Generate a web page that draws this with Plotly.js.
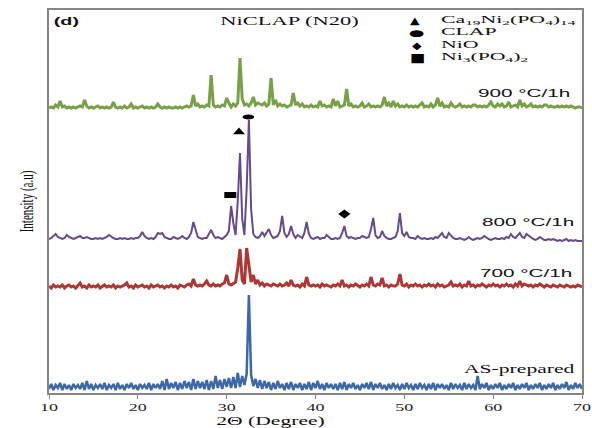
<!DOCTYPE html>
<html><head><meta charset="utf-8">
<script src="https://cdn.plot.ly/plotly-3.0.1.min.js"></script>
<style>html,body{margin:0;padding:0;background:#fff}#chart{width:592px;height:428px}</style>
</head><body><div id="chart"></div>
<script>
// 2-theta scan positions (degrees)
const twoTheta = [10,10.25,10.5,10.75,11,11.25,11.5,11.75,12,12.25,12.5,12.75,13,13.25,13.5,13.75,14,14.25,14.5,14.75,15,15.25,15.5,15.75,16,16.25,16.5,16.75,17,17.25,17.5,17.75,18,18.25,18.5,18.75,19,19.25,19.5,19.75,20,20.25,20.5,20.75,21,21.25,21.5,21.75,22,22.25,22.5,22.75,23,23.25,23.5,23.75,24,24.25,24.5,24.75,25,25.25,25.5,25.75,26,26.25,26.5,26.75,27,27.25,27.5,27.75,28,28.25,28.5,28.75,29,29.25,29.5,29.75,30,30.25,30.5,30.75,31,31.25,31.5,31.75,32,32.25,32.5,32.75,33,33.25,33.5,33.75,34,34.25,34.5,34.75,35,35.25,35.5,35.75,36,36.25,36.5,36.75,37,37.25,37.5,37.75,38,38.25,38.5,38.75,39,39.25,39.5,39.75,40,40.25,40.5,40.75,41,41.25,41.5,41.75,42,42.25,42.5,42.75,43,43.25,43.5,43.75,44,44.25,44.5,44.75,45,45.25,45.5,45.75,46,46.25,46.5,46.75,47,47.25,47.5,47.75,48,48.25,48.5,48.75,49,49.25,49.5,49.75,50,50.25,50.5,50.75,51,51.25,51.5,51.75,52,52.25,52.5,52.75,53,53.25,53.5,53.75,54,54.25,54.5,54.75,55,55.25,55.5,55.75,56,56.25,56.5,56.75,57,57.25,57.5,57.75,58,58.25,58.5,58.75,59,59.25,59.5,59.75,60,60.25,60.5,60.75,61,61.25,61.5,61.75,62,62.25,62.5,62.75,63,63.25,63.5,63.75,64,64.25,64.5,64.75,65,65.25,65.5,65.75,66,66.25,66.5,66.75,67,67.25,67.5,67.75,68,68.25,68.5,68.75,69,69.25,69.5,69.75,70];

// Intensities (a.u.)
const intAS = [
4,9,3,8, 5,10,3,9, 4,8,3,9, 5,8,4,10, 3,12,4,9, 3,8,5,9, 4,10,3,8, 5,9,3,10, 4,8,3,9, 5,10,4,8,
3,9,5,8, 4,10,3,9, 5,9,4,12, 3,14,4,10, 5,11,3,10, 4,12,5,11, 3,14,4,12, 5,11,4,13, 3,12,4,17, 5,13,4,14,
6,15,5,16, 5,20,6,17, 8,19,98,18, 7,14,5,13, 4,12,5,11, 3,10,4,12, 5,9,3,10, 4,11,3,9, 5,10,3,9, 4,11,3,10,
5,12,4,9, 3,10,5,9, 4,9,3,10, 4,11,3,9, 5,10,4,8, 3,9,5,10, 4,11,3,9, 5,10,4,8, 3,9,4,10, 5,8,3,9,
4,10,5,8, 3,9,4,10, 5,8,3,9, 4,10,3,9, 5,9,4,8, 3,10,4,9, 5,8,3,10, 4,9,5,8, 3,17,4,9, 5,10,3,8,
4,9,5,10, 3,8,4,9, 5,10,3,8, 4,9,5,10, 3,8,4,9, 5,10,3,8, 4,9,5,10, 3,8,4,9, 5,11,3,8, 4,10,5,9,
4];
const int700 = [
2,0,3,1, 2,1,3,0, 2,3,1,2, 0,2,5,1, 2,0,3,1, 2,1,3,0, 2,3,1,2, 1,3,0,2, 1,2,3,5, 1,2,0,3,
1,2,3,1, 2,0,3,1, 2,3,1,2, 0,2,1,3, 1,2,0,3, 2,1,3,4, 2,9,3,2, 3,2,4,7, 3,2,4,2, 3,2,4,5,
13,4,3,5, 6,20,39,8, 4,40,22,6, 13,4,8,3, 5,2,4,3, 2,4,3,2, 4,2,3,5, 2,8,3,2, 3,1,4,2, 11,3,2,3,
2,3,1,4, 2,3,2,1, 3,2,4,2, 8,2,3,1, 3,2,4,2, 1,3,2,4, 2,11,3,2, 4,3,10,2, 3,1,3,2, 2,4,14,3,
2,4,1,3, 2,4,2,3, 1,3,2,4, 2,3,1,4, 2,3,1,2, 3,6,2,3, 2,4,1,3, 2,7,2,3, 1,3,2,4, 2,1,3,2,
4,2,3,1, 3,2,4,2, 3,1,4,2, 7,2,4,3, 2,3,1,3, 2,4,2,1, 3,2,1,3, 2,1,3,2, 1,3,2,1, 2,1,3,2,
1];
const int800 = [
0,1,3,5, 2,1,0,1, 4,2,1,0, 1,2,3,1, 1,2,1,0, 0,1,0,1, 0,1,2,4, 2,1,0,0, 1,0,1,0, 0,1,0,1,
1,3,7,3, 1,0,1,0, 2,6,5,6, 2,1,0,0, 2,1,0,1, 3,1,0,2, 6,17,8,2, 1,0,1,1, 5,9,4,1, 2,1,0,2,
4,8,33,16, 4,38,86,20, 4,50,119,30, 5,2,1,3, 7,3,6,10, 4,1,2,3, 8,23,6,2, 5,13,5,1, 4,2,1,6, 17,5,1,0,
1,2,0,1, 1,4,2,0, 0,1,0,1, 6,13,3,1, 2,1,0,1, 1,3,2,1, 2,10,21,4, 1,2,8,3, 1,0,0,1, 2,8,26,6,
3,7,2,1, 1,0,3,1, 0,1,0,0, 1,0,2,1, 3,6,2,1, 6,3,1,0, 0,1,0,-1, 0,2,0,-1, 0,1,0,1, 3,1,0,-1,
0,1,0,0, 1,0,2,1, 5,2,1,4, 6,2,1,5, 3,1,0,-1, 0,2,0,-1, -1,0,-1,0, -1,-2,-1,-2, -1,0,-2,-1, -2,-1,-2,-2,
-2];
const int900 = [
1,2,1,4, 2,8,2,3, 1,2,1,2, 1,2,3,2, 9,3,1,2, 1,2,3,1, 2,1,2,1, 2,7,2,1, 2,1,3,1, 2,5,1,2,
1,2,3,1, 2,1,2,1, 2,5,2,1, 2,1,2,1, 1,2,1,2, 1,2,3,2, 3,14,3,5, 2,3,2,4, 3,34,4,2, 3,2,4,3,
11,6,2,5, 3,6,51,10, 4,5,3,6, 12,4,6,5, 4,6,3,5, 31,4,9,3, 5,3,4,2, 3,4,16,4, 6,3,5,2, 3,2,4,2,
3,2,8,3, 4,2,3,2, 10,3,8,2, 3,4,20,3, 5,2,3,2, 3,6,2,3, 5,2,3,2, 3,2,4,12, 3,6,2,8, 3,5,2,3,
2,4,2,3, 2,3,2,4, 6,2,3,2, 5,2,4,11, 3,6,2,3, 2,6,3,2, 3,5,2,3, 2,3,2,4, 4,2,3,2, 3,2,4,7,
3,2,5,3, 5,2,3,7, 2,3,4,2, 9,3,5,2, 3,5,2,3, 2,3,2,4, 4,2,3,2, 2,3,2,3, 2,3,2,3, 2,1,2,2,
1];

const seriesNames = ['AS-prepared', '700 °C/1h', '800 °C/1h', '900 °C/1h'];

// Phase markers on the 800 °C pattern
const phaseNames = ['Ca<sub>19</sub>Ni<sub>2</sub>(PO<sub>4</sub>)<sub>14</sub>', 'CLAP', 'NiO', 'Ni<sub>3</sub>(PO<sub>4</sub>)<sub>2</sub>'];
const phaseAngle = [31.39, 32.44, 43.25, 30.41];
const phaseHeight = [107, 122, 25, 44];
const phaseGlyph = ['▲', '●', '◆', '■'];

// ---- styling ----
const S = 1.8; // horizontal text stretch
const offsets = [0, 105, 154, 284];
const colors = ['#3c69a5', '#af3733', '#654b8c', '#78a046'];
const widths = [2.5, 3, 2, 3];
const seriesData = [intAS, int700, int800, int900];
const symbols = ['triangle-up', 'circle', 'diamond', 'square'];
const msizes = [9, 5, 7, 6];
const mstretch = [1.15, 2.3, 1.35, 2.0];

const traces = [];
seriesData.forEach((arr, i) => {
  traces.push({
    x: twoTheta, y: arr.map(v => v + offsets[i]), type: 'scatter', mode: 'lines',
    name: seriesNames[i], line: {color: colors[i], width: widths[i], shape: 'linear'},
    showlegend: false, hoverinfo: 'skip'
  });
});
phaseNames.forEach((nm, i) => {
  traces.push({
    x: [phaseAngle[i]], y: [phaseHeight[i] + offsets[2]], type: 'scatter', mode: 'markers',
    name: nm, marker: {symbol: symbols[i], size: msizes[i], color: '#000', line: {width: 0}},
    showlegend: false, hoverinfo: 'skip'
  });
});

const serif = 'Liberation Serif, Times New Roman, serif';
const sans = 'Liberation Sans, Arial, sans-serif';
const annotations = [];
const annStretch = [];
function ann(o, st) { annotations.push(Object.assign({xref: 'paper', yref: 'paper', showarrow: false, yanchor: 'middle'}, o)); annStretch.push(st); }

ann({text: 'NiCLAP (N20)', x: 0.452, y: 0.9713, xanchor: 'center', font: {family: serif, size: 12.5, color: '#111'}}, S);
const legY = [0.972, 0.9398, 0.9076, 0.8753];
const glyphX = [0.6867, 0.690, 0.690, 0.6905];
const glyphSize = [10, 9, 10, 12];
const glyphStretch = [1.25, 2.0, 1.2, 1.35];
phaseNames.forEach((nm, i) => {
  ann({text: phaseGlyph[i], x: glyphX[i], y: legY[i], xanchor: 'center', font: {family: 'DejaVu Sans', size: glyphSize[i], color: '#000'}}, glyphStretch[i]);
});
ann({text: phaseNames.join('<br>'), x: 0.728, y: 0.9237, xanchor: 'left', align: 'left',
     font: {family: serif, size: 9.5, color: '#111'}}, 2.3);
const labelX = [0.99, 0.9869, 0.9906, 0.9837];
const labelY = [0.0614, 0.3146, 0.4465, 0.782];
seriesNames.forEach((nm, i) => {
  ann({text: nm, x: labelX[i], y: labelY[i], xanchor: 'right',
       font: {family: i === 0 ? serif : sans, size: i === 0 ? 12 : 11.5, color: '#111'}}, S);
});

const layout = {
  width: 592, height: 428,
  margin: {l: 49, r: 10, t: 10, b: 35},
  paper_bgcolor: '#fff', plot_bgcolor: '#fff',
  showlegend: false, hovermode: false, dragmode: false,
  title: {text: '<b>(d)</b>', xref: 'paper', yref: 'paper', x: 0.0328, y: 0.9713, xanchor: 'center', yanchor: 'middle',
          font: {family: sans, size: 11, color: '#111'}},
  xaxis: {
    range: [10, 70], tickvals: [10, 20, 30, 40, 50, 60, 70], ticktext: ['10','20','30','40','50','60','70'],
    ticks: 'outside', ticklen: 4, tickcolor: '#888', tickwidth: 1,
    showline: true, mirror: true, linecolor: '#858585', linewidth: 1.5,
    showgrid: false, zeroline: false, fixedrange: true,
    tickfont: {family: serif, size: 10, color: '#222'},
    title: {text: '2Θ (Degree)', font: {family: serif, size: 12, color: '#111'}, standoff: 6}
  },
  yaxis: {
    range: [0, 383], showticklabels: false, ticks: '',
    showline: true, mirror: true, linecolor: '#858585', linewidth: 1.5,
    showgrid: false, zeroline: false, fixedrange: true,
    title: {text: 'Intensity (a.u)', font: {family: serif, size: 11, color: '#111'}, standoff: 14}
  },
  annotations: annotations
};

function stretchText(el, s, mode, dx) {
  const b = el.getBBox();
  let p = b.x + b.width / 2;
  if (mode === 'left') p = b.x;
  if (mode === 'right') p = b.x + b.width;
  const ex = el.getAttribute('transform') || '';
  el.setAttribute('transform', (ex + ` translate(${dx || 0},0) translate(${p},0) scale(${s},1) translate(${-p},0)`).trim());
}

Plotly.newPlot('chart', traces, layout, {displayModeBar: false, responsive: false}).then(gd => {
  // annotations: stretch the whole annotation group horizontally about its anchor edge
  gd.querySelectorAll('g.annotation').forEach(g => {
    const idx = +g.getAttribute('data-index');
    const s = annStretch[idx];
    if (s === 1) return;
    const b = g.getBBox();
    const xa = annotations[idx].xanchor;
    let p = b.x + b.width / 2;
    if (xa === 'left') p = b.x;
    if (xa === 'right') p = b.x + b.width;
    const ex = g.getAttribute('transform') || '';
    g.setAttribute('transform', (`translate(${p},0) scale(${s},1) translate(${-p},0) ` + ex).trim());
  });
  // main title "(d)"
  const gt = gd.querySelector('.g-gtitle text');
  if (gt) stretchText(gt, S, 'center', 0);
  // tick labels
  gd.querySelectorAll('g.xtick text').forEach(t => stretchText(t, S, 'center', 0));
  // x title (shifted left as in original)
  const xt = gd.querySelector('.g-xtitle text');
  if (xt) stretchText(xt, S, 'center', -45);
  // y title: stretch in screen x
  const yt = gd.querySelector('.g-ytitle text');
  if (yt) {
    const pb = yt.parentNode.getBBox();
    const cx = pb.x + pb.width / 2;
    const ex = yt.getAttribute('transform') || '';
    yt.setAttribute('transform', `translate(${cx},0) scale(${S},1) translate(${-cx},0) ` + ex);
  }
  // phase markers
  const tr = gd.querySelectorAll('.scatterlayer .trace');
  tr.forEach((g, i) => {
    if (i < 4) return;
    g.querySelectorAll('path.point').forEach(p => {
      const ex = p.getAttribute('transform') || '';
      p.setAttribute('transform', ex + ` scale(${mstretch[i - 4]},1)`);
    });
  });
});
</script>
</body></html>
